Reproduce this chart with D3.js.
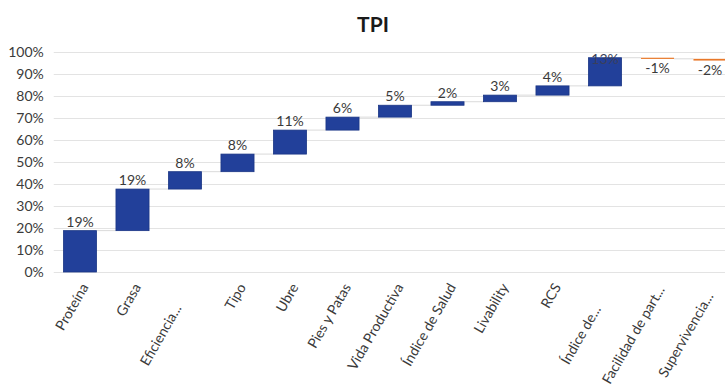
<!DOCTYPE html>
<html>
<head>
<meta charset="utf-8">
<script src="https://cdn.jsdelivr.net/npm/d3@7"></script>
<style>
  html, body { margin: 0; padding: 0; background: #ffffff; }
  svg { display: block; }
  text { font-family: Lato, "Open Sans", sans-serif; }
</style>
</head>
<body>
<svg id="chart" width="725" height="388"></svg>
<script>
const categories = ["Proteína", "Grasa", "Eficiencia...", "Tipo", "Ubre", "Pies y Patas",
  "Vida Productiva", "Índice de Salud", "Livability", "RCS", "Índice de...",
  "Facilidad de part...", "Supervivencia..."];
const deltas = [18.8, 18.9, 7.9, 8.0, 10.9, 5.9, 5.4, 1.6, 3.0, 4.2, 12.8, -0.5, -0.8];
const dataLabels = ["19%", "19%", "8%", "8%", "11%", "6%", "5%", "2%", "3%", "4%", "13%", "-1%", "-2%"];
const yTicks = [0, 10, 20, 30, 40, 50, 60, 70, 80, 90, 100];
const titleText = "TPI";

const svg = d3.select("#chart");
const W = 725, H = 388;
const plot = { left: 53.75, top: 52, bottom: 272 };

const x = d3.scaleBand().domain(categories)
  .range([53.75, 53.75 + 52.5 * categories.length])
  .paddingInner(0.37).paddingOuter(0.185);
const y = d3.scaleLinear().domain([0, 100]).range([plot.bottom, plot.top]);

// build waterfall
let run = 0;
const bars = categories.map((c, i) => {
  const start = run;
  run += deltas[i];
  return { cat: c, start, end: run, delta: deltas[i], label: dataLabels[i] };
});

// title
svg.append("text").attr("x", 373).attr("y", 32).attr("text-anchor", "middle")
  .attr("font-size", 21).attr("font-weight", "bold").attr("fill", "#1a1a1a").text(titleText);

// grid
const yAxis = d3.axisLeft(y).tickValues(yTicks).tickFormat(d => d + "%").tickSize(-(W - plot.left)).tickPadding(10);
const gY = svg.append("g").attr("transform", `translate(${plot.left},0)`).call(yAxis);
gY.select(".domain").remove();
gY.selectAll(".tick line").attr("stroke", "#e3e3e3").attr("stroke-width", 1);
gY.selectAll(".tick text").attr("font-size", 14).attr("fill", "#3a3a3a").attr("x", -10);

// connectors
svg.append("g").selectAll("line").data(bars.slice(0, -1)).join("line")
  .attr("x1", d => x(d.cat) + x.bandwidth())
  .attr("x2", (d, i) => x(categories[i + 1]))
  .attr("y1", d => y(d.end)).attr("y2", d => y(d.end))
  .attr("stroke", "#dadada").attr("stroke-width", 1);

// bars
svg.append("g").selectAll("rect").data(bars).join("rect")
  .attr("x", d => x(d.cat))
  .attr("width", x.bandwidth())
  .attr("y", d => y(Math.max(d.start, d.end)))
  .attr("height", d => Math.max(1.2, Math.abs(y(d.start) - y(d.end))))
  .attr("fill", d => d.delta >= 0 ? "#22409a" : "#e8782a")
  .attr("stroke", d => d.delta >= 0 ? "#1b3685" : "#e07020")
  .attr("stroke-width", d => d.delta >= 0 ? 0.8 : 0);

// data labels
svg.append("g").selectAll("text").data(bars).join("text")
  .attr("x", d => x(d.cat) + x.bandwidth() / 2)
  .attr("y", d => {
    if (d.delta < 0) return y(d.end) + 14;
    return Math.max(y(d.end) - 4, plot.top + 12);
  })
  .attr("text-anchor", "middle").attr("font-size", 14)
  .attr("fill", d => d.delta >= 0 && y(d.end) - 4 < plot.top + 12 ? "#3a3f5a" : "#3a3a3a")
  .text(d => d.label);

// x labels (truncated labels are centred in the label box, others end-anchored)
svg.append("g").selectAll("text").data(categories).join("text")
  .attr("transform", d => `translate(${x(d) + x.bandwidth() / 2 + 9},${287}) rotate(-60)`)
  .attr("x", d => d.endsWith("...") ? -58 : 0)
  .attr("text-anchor", d => d.endsWith("...") ? "middle" : "end")
  .attr("font-size", 14).attr("fill", "#3a3a3a")
  .text(d => d);
</script>
</body>
</html>
